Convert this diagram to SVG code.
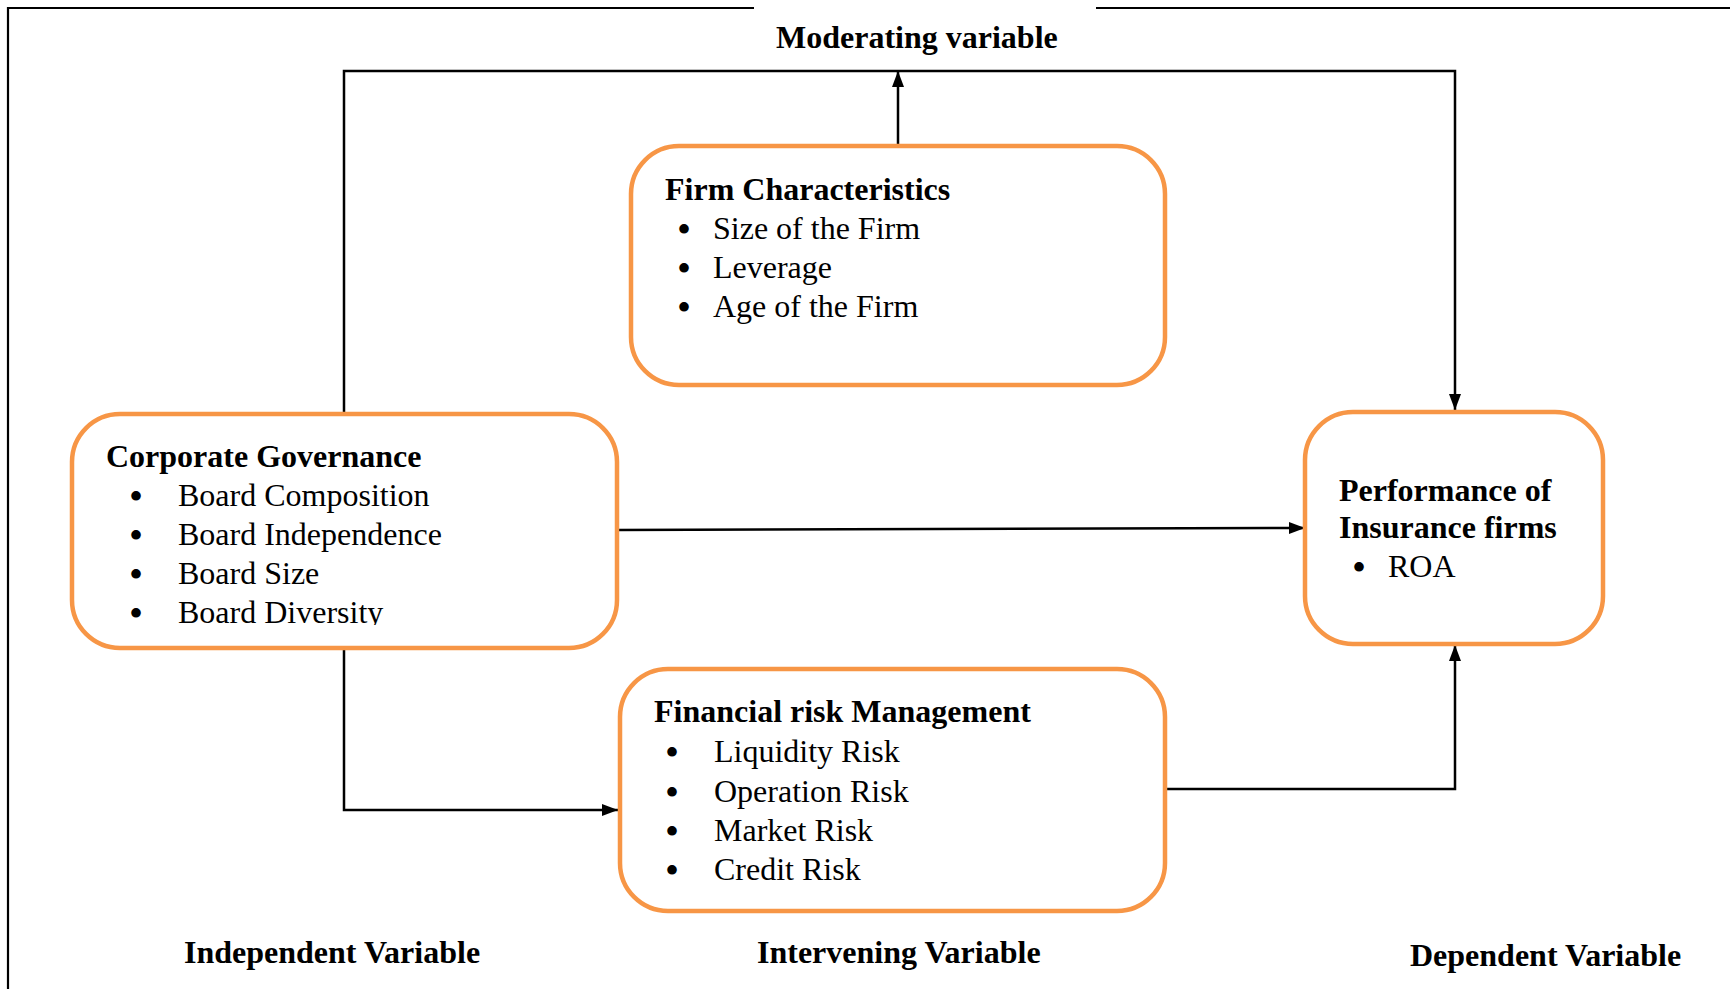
<svg xmlns="http://www.w3.org/2000/svg" width="1730" height="989" viewBox="0 0 1730 989">
<style>
.box{fill:#fff;stroke:#F79646;stroke-width:4.5}
.t{font-family:"Liberation Serif","Times New Roman",serif;font-size:32px;fill:#000}
.b{font-weight:bold}
.bul{font-family:"Liberation Serif","Times New Roman",serif;font-size:40px;fill:#000}
.ln{fill:none;stroke:#000;stroke-width:2.5}
.frame{fill:none;stroke:#000;stroke-width:2.2}
</style>
<defs>
<marker id="ah" markerUnits="userSpaceOnUse" markerWidth="17" markerHeight="15" refX="16" refY="7.5" orient="auto">
<path d="M0,1.5 L16,7.5 L0,13.5 Z" fill="#000"/>
</marker>
<clipPath id="cgclip"><rect x="60" y="400" width="560" height="225"/></clipPath>
</defs>
<rect width="1730" height="989" fill="#fff"/>
<g id="frame">
<path class="frame" d="M754,8 H8 V989"/>
<path class="frame" d="M1096,8 H1730"/>
</g>
<g id="labels">
<text class="t b" x="776" y="48">Moderating variable</text>
<text class="t b" x="184" y="963">Independent Variable</text>
<text class="t b" x="757" y="963">Intervening Variable</text>
<text class="t b" x="1410" y="966">Dependent Variable</text>
</g>
<g id="connectors">
<path class="ln" d="M344,414 V71 H1455 V410" marker-end="url(#ah)"/>
<path class="ln" d="M898,146 V71" marker-end="url(#ah)"/>
<path class="ln" d="M617,530 L1305,528" marker-end="url(#ah)"/>
<path class="ln" d="M344,648 V810 H618" marker-end="url(#ah)"/>
<path class="ln" d="M1165,789 H1455 V645" marker-end="url(#ah)"/>
</g>
<g id="firm">
<rect class="box" x="631" y="146" width="534" height="239" rx="48"/>
<text class="t b" x="665" y="200">Firm Characteristics</text>
<text class="bul" x="677" y="243">•</text><text class="t" x="713" y="239">Size of the Firm</text>
<text class="bul" x="677" y="282">•</text><text class="t" x="713" y="278">Leverage</text>
<text class="bul" x="677" y="321">•</text><text class="t" x="713" y="317">Age of the Firm</text>
</g>
<g id="corporate">
<rect class="box" x="72" y="414" width="545" height="234" rx="48"/>
<text class="t b" x="106" y="467">Corporate Governance</text>
<text class="bul" x="129" y="510">•</text><text class="t" x="178" y="506">Board Composition</text>
<text class="bul" x="129" y="549">•</text><text class="t" x="178" y="545" fill="#222">Board Independence</text>
<text class="bul" x="129" y="588">•</text><text class="t" x="178" y="584">Board Size</text>
<text class="bul" x="129" y="627">•</text><text class="t" x="178" y="623" clip-path="url(#cgclip)">Board Diversity</text>
</g>
<g id="performance">
<rect class="box" x="1305" y="412" width="298" height="232" rx="48"/>
<text class="t b" x="1339" y="501">Performance of</text>
<text class="t b" x="1339" y="538">Insurance firms</text>
<text class="bul" x="1352" y="581">•</text><text class="t" x="1388" y="577">ROA</text>
</g>
<g id="financial">
<rect class="box" x="620" y="669" width="545" height="242" rx="48"/>
<text class="t b" x="654" y="722">Financial risk Management</text>
<text class="bul" x="665" y="766">•</text><text class="t" x="714" y="762">Liquidity Risk</text>
<text class="bul" x="665" y="806">•</text><text class="t" x="714" y="802">Operation Risk</text>
<text class="bul" x="665" y="845">•</text><text class="t" x="714" y="841">Market Risk</text>
<text class="bul" x="665" y="884">•</text><text class="t" x="714" y="880">Credit Risk</text>
</g>
</svg>
